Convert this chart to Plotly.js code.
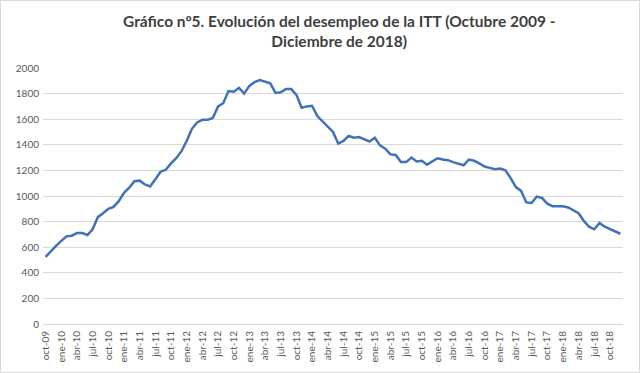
<!DOCTYPE html>
<html>
<head>
<meta charset="utf-8">
<script src="https://cdn.plot.ly/plotly-3.0.1.min.js"></script>
<style>
html,body{margin:0;padding:0;background:#fff;}
#chart{width:638px;height:371px;border:1px solid #d9d9d9;}
</style>
</head>
<body>
<div id="chart"></div>
<script>
const months = [
"oct-09","nov-09","dic-09",
"ene-10","feb-10","mar-10","abr-10","may-10","jun-10","jul-10","ago-10","sep-10","oct-10","nov-10","dic-10",
"ene-11","feb-11","mar-11","abr-11","may-11","jun-11","jul-11","ago-11","sep-11","oct-11","nov-11","dic-11",
"ene-12","feb-12","mar-12","abr-12","may-12","jun-12","jul-12","ago-12","sep-12","oct-12","nov-12","dic-12",
"ene-13","feb-13","mar-13","abr-13","may-13","jun-13","jul-13","ago-13","sep-13","oct-13","nov-13","dic-13",
"ene-14","feb-14","mar-14","abr-14","may-14","jun-14","jul-14","ago-14","sep-14","oct-14","nov-14","dic-14",
"ene-15","feb-15","mar-15","abr-15","may-15","jun-15","jul-15","ago-15","sep-15","oct-15","nov-15","dic-15",
"ene-16","feb-16","mar-16","abr-16","may-16","jun-16","jul-16","ago-16","sep-16","oct-16","nov-16","dic-16",
"ene-17","feb-17","mar-17","abr-17","may-17","jun-17","jul-17","ago-17","sep-17","oct-17","nov-17","dic-17",
"ene-18","feb-18","mar-18","abr-18","may-18","jun-18","jul-18","ago-18","sep-18","oct-18","nov-18","dic-18"
];
const desempleo = [
525,570,610,
650,685,690,710,710,695,740,835,865,900,915,960,
1025,1065,1115,1120,1090,1075,1130,1190,1205,1255,1295,1350,
1430,1525,1575,1595,1595,1610,1700,1725,1820,1815,1845,1800,
1860,1890,1905,1890,1880,1805,1810,1835,1835,1790,1690,1700,
1705,1625,1585,1545,1500,1410,1430,1470,1455,1460,1445,1425,
1455,1395,1370,1325,1320,1265,1265,1300,1270,1275,1245,1270,
1295,1285,1280,1265,1255,1240,1285,1275,1255,1230,1220,1210,
1215,1200,1140,1070,1040,950,945,995,985,940,920,920,
920,910,890,865,805,760,740,790,760,740,725,705
];
const tickLabels = months.filter((m, i) => i % 3 === 0);
const yTicks = [0,200,400,600,800,1000,1200,1400,1600,1800,2000];
const titleText = 'Gráfico nº5. Evolución del desempleo de la ITT (Octubre 2009 -<br>Diciembre de 2018)';

Plotly.newPlot('chart', [{
  x: months,
  y: desempleo,
  type: 'scatter',
  mode: 'lines',
  line: {color: '#4072b8', width: 2.5},
  hoverinfo: 'x+y'
}], {
  width: 638, height: 371,
  margin: {l: 42, r: 16, t: 67, b: 48},
  paper_bgcolor: '#ffffff',
  plot_bgcolor: '#ffffff',
  font: {family: 'Lato, "Open Sans", sans-serif', color: '#595959', size: 10},
  annotations: [{
    text: titleText,
    xref: 'paper', yref: 'paper',
    x: 0.51, y: 1.145, xanchor: 'center', yanchor: 'middle',
    showarrow: false,
    font: {family: 'Lato, "Open Sans", sans-serif', size: 15.5, color: '#404040', weight: 'bold'}
  }],
  showlegend: false,
  xaxis: {
    type: 'category',
    range: [-0.5, months.length - 0.5],
    tickmode: 'array',
    tickvals: tickLabels,
    ticktext: tickLabels,
    tickangle: -90,
    ticklabelstandoff: 4,
    showgrid: false,
    showline: false,
    zeroline: false,
    ticks: '',
    tickfont: {size: 10, color: '#595959'},
    automargin: false
  },
  yaxis: {
    range: [0, 2000],
    tickvals: yTicks,
    showgrid: true,
    gridcolor: '#d9d9d9',
    gridwidth: 1,
    zeroline: true,
    zerolinecolor: '#d9d9d9',
    zerolinewidth: 1,
    showline: false,
    ticks: '',
    ticklabelstandoff: 3,
    tickfont: {size: 10, color: '#595959'},
    automargin: false
  }
}, {displayModeBar: false, staticPlot: true});
</script>
</body>
</html>
